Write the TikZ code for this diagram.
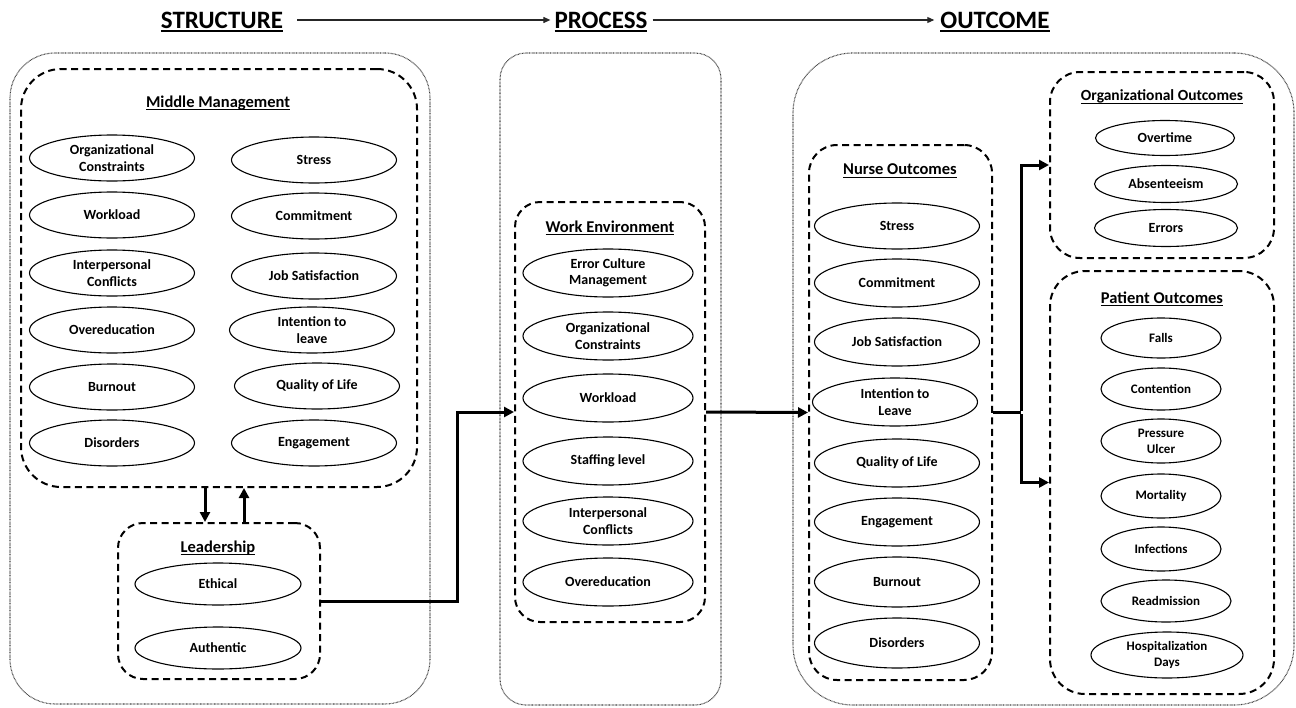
\documentclass[tikz,border=0pt]{standalone}
\usepackage{fontspec}
\setmainfont{Carlito}
\usetikzlibrary{shapes.geometric,arrows.meta}
\newcommand{\ulbox}[3]{{\setbox0\hbox{#3}\rlap{\raisebox{-#2}{\rule{\wd0}{#1}}}\box0}}
\begin{document}
\begin{tikzpicture}[x=1pt,y=-1pt,
  ell/.style={draw, ellipse, line width=1.1pt, inner sep=0pt, align=center,
    font=\fontsize{14}{16.5}\selectfont\bfseries},
  pell/.style={ell, font=\fontsize{13}{16}\selectfont\bfseries},
  dbox/.style={draw, line width=2pt, dash pattern=on 7pt off 4.5pt, rounded corners=#1, inner sep=0pt},
  dbox/.default=30pt,
  obox/.style={draw, black!75, line width=1.1pt, dash pattern=on 0.7pt off 0.7pt, rounded corners=#1, inner sep=0pt},
  obox/.default=40pt,
  hdr/.style={font=\fontsize{16.5}{19}\selectfont\bfseries, inner sep=0pt},
  ttl/.style={font=\fontsize{25}{28}\selectfont\bfseries, inner sep=0pt, anchor=base},
  conn/.style={line width=3pt, -{Triangle[length=10pt,width=10pt]}},
  tarr/.style={line width=1.1pt, black!85, -{Triangle[length=7pt,width=6pt]}}
]
\useasboundingbox (0,0) rectangle (1296,707);

% titles
\node[ttl] (ts) at (222,28) {\ulbox{2pt}{4pt}{STRUCTURE}};
\node[ttl] (tp) at (601,28) {\ulbox{2pt}{4pt}{PROCESS}};
\node[ttl] (to) at (995,28) {\ulbox{2pt}{4pt}{OUTCOME}};
\draw[tarr, shorten <=14pt, shorten >=4pt] ([yshift=8pt]ts.base east) -- ([yshift=8pt]tp.base west);
\draw[tarr, shorten <=5pt, shorten >=6pt] ([yshift=8pt]tp.base east) -- ([yshift=8pt]to.base west);

% outer dotted boxes
\node[obox=45pt, minimum width=420pt, minimum height=651pt] (o1) at (220,378.5) {};
\node[obox=26pt, minimum width=221pt, minimum height=652pt] (o2) at (610.5,379) {};
\node[obox=60pt, minimum width=501pt, minimum height=652pt] (o3) at (1043.5,379) {};

% Middle management
\node[dbox=40pt, minimum width=396pt, minimum height=418pt] (mm) at (219,278) {};
\node[hdr] (mmt) at (218,103) {\ulbox{1.3pt}{3pt}{Middle Management}};
\node[ell, minimum width=165pt, minimum height=46pt] (m1) at (112,158) {Organizational\\Constraints};
\node[ell, minimum width=165pt, minimum height=46pt] (m2) at (112,215) {Workload};
\node[ell, minimum width=165pt, minimum height=46pt] (m3) at (112,273) {Interpersonal\\Conflicts};
\node[ell, minimum width=165pt, minimum height=46pt] (m4) at (112,330) {Overeducation};
\node[ell, minimum width=165pt, minimum height=46pt] (m5) at (112,387) {Burnout};
\node[ell, minimum width=165pt, minimum height=46pt] (m6) at (112,443) {Disorders};
\node[ell, minimum width=165pt, minimum height=46pt] (n1) at (314,160) {Stress};
\node[ell, minimum width=165pt, minimum height=46pt] (n2) at (314,216) {Commitment};
\node[ell, minimum width=165pt, minimum height=46pt] (n3) at (314,276) {Job Satisfaction};
\node[ell, minimum width=165pt, minimum height=46pt] (n4) at (312,330) {Intention to\\leave};
\node[ell, minimum width=165pt, minimum height=46pt] (n5) at (317,386) {Quality of Life};
\node[ell, minimum width=165pt, minimum height=46pt] (n6) at (314,443) {Engagement};

% Leadership
\node[dbox=25pt, minimum width=202pt, minimum height=156pt] (ld) at (219,601) {};
\node[hdr] (ldt) at (218,548) {\ulbox{1.3pt}{3pt}{Leadership}};
\node[ell, minimum width=166pt, minimum height=42pt] (l1) at (218,584) {Ethical};
\node[ell, minimum width=166pt, minimum height=42pt] (l2) at (218,648) {Authentic};

\draw[conn] ([xshift=-14pt]ld.north |- mm.south) -- ([xshift=-14pt]ld.north);
\draw[conn] ([xshift=25pt]ld.north) -- ([xshift=25pt]ld.north |- mm.south);

% Work environment
\node[dbox=25pt, minimum width=190pt, minimum height=420pt] (we) at (610,412) {};
\node[hdr] (wet) at (610,228) {\ulbox{1.3pt}{3pt}{Work Environment}};
\node[ell, minimum width=170pt, minimum height=48pt] (w1) at (608,273) {Error Culture\\Management};
\node[ell, minimum width=170pt, minimum height=48pt] (w2) at (608,336) {Organizational\\Constraints};
\node[ell, minimum width=170pt, minimum height=48pt] (w3) at (608,398) {Workload};
\node[ell, minimum width=170pt, minimum height=48pt] (w4) at (608,461) {Staffing level};
\node[ell, minimum width=170pt, minimum height=48pt] (w5) at (608,521) {Interpersonal\\Conflicts};
\node[ell, minimum width=170pt, minimum height=48pt] (w6) at (608,582) {Overeducation};

\draw[conn] (ld.east) -- ++(136,0) |- (we.west);

% Nurse outcomes
\node[dbox=28pt, minimum width=183pt, minimum height=535pt] (no) at (900.5,412.5) {};
\node[hdr] (not) at (900,171) {\ulbox{1.3pt}{3pt}{Nurse Outcomes}};
\node[ell, minimum width=165pt, minimum height=46pt] (u1) at (897,226) {Stress};
\node[ell, minimum width=165pt, minimum height=48pt] (u2) at (897,283) {Commitment};
\node[ell, minimum width=165pt, minimum height=48pt] (u3) at (897,342) {Job Satisfaction};
\node[ell, minimum width=165pt, minimum height=48pt] (u4) at (895,402) {Intention to\\Leave};
\node[ell, minimum width=165pt, minimum height=48pt] (u5) at (897,463) {Quality of Life};
\node[ell, minimum width=165pt, minimum height=48pt] (u6) at (897,522) {Engagement};
\node[ell, minimum width=165pt, minimum height=50pt] (u7) at (897,582) {Burnout};
\node[ell, minimum width=165pt, minimum height=50pt] (u8) at (897,643) {Disorders};

\draw[conn] (we.east) -- (no.west);

% Organizational outcomes
\node[dbox=30pt, minimum width=224pt, minimum height=186pt] (oo) at (1162,165) {};
\node[hdr, font=\fontsize{15.5}{18}\selectfont\bfseries] (oot) at (1162,97) {\ulbox{1.3pt}{3pt}{Organizational Outcomes}};
\node[ell, minimum width=139pt, minimum height=35pt] (g1) at (1165,138) {Overtime};
\node[ell, minimum width=143pt, minimum height=37pt] (g2) at (1166,184) {Absenteeism};
\node[ell, minimum width=143pt, minimum height=37pt] (g3) at (1166,228) {Errors};

% Patient outcomes
\node[dbox=35pt, minimum width=224pt, minimum height=423pt] (po) at (1162,482.5) {};
\node[hdr] (pot) at (1162,299) {\ulbox{1.3pt}{3pt}{Patient Outcomes}};
\node[pell, minimum width=120pt, minimum height=40pt] (p1) at (1161,338) {Falls};
\node[pell, minimum width=120pt, minimum height=42pt] (p2) at (1161,389) {Contention};
\node[pell, minimum width=120pt, minimum height=44pt] (p3) at (1161,441) {Pressure\\Ulcer};
\node[pell, minimum width=120pt, minimum height=44pt] (p4) at (1161,496) {Mortality};
\node[pell, minimum width=120pt, minimum height=44pt] (p5) at (1161,549) {Infections};
\node[pell, minimum width=130pt, minimum height=42pt] (p6) at (1166,601) {Readmission};
\node[pell, minimum width=152pt, minimum height=46pt] (p7) at (1167,655) {Hospitalization\\Days};

\draw[line width=3pt] (no.east) -- ++(28,0) coordinate (jn);
\draw[conn] ([yshift=1.5pt]jn) |- (oo.west);
\draw[conn] ([yshift=-1.5pt]jn) |- (po.west);
\end{tikzpicture}
\end{document}
